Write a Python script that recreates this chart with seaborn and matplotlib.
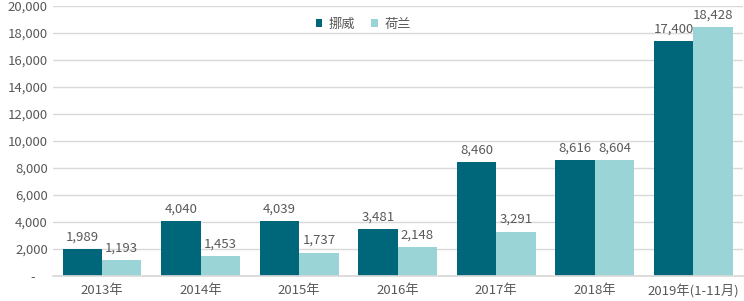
import matplotlib
matplotlib.use("Agg")
import matplotlib.pyplot as plt
import seaborn as sns
import pandas as pd
from matplotlib.ticker import FuncFormatter

years = ["2013年", "2014年", "2015年", "2016年", "2017年", "2018年", "2019年(1-11月)"]
norway = [1989, 4040, 4039, 3481, 8460, 8616, 17400]
netherlands = [1193, 1453, 1737, 2148, 3291, 8604, 18428]
series = ["挪威", "荷兰"]
colors = ["#00677A", "#9AD4D6"]

df = pd.DataFrame({
    "year": years * 2,
    "value": norway + netherlands,
    "country": [series[0]] * len(years) + [series[1]] * len(years),
})

sns.set_theme(style="white")
plt.rcParams["font.family"] = ["Noto Sans CJK SC", "DejaVu Sans"]

fig = plt.figure(figsize=(7.44, 3.01), dpi=100)
ax = fig.add_axes([0.071, 0.083, 0.927, 0.897])

sns.barplot(data=df, x="year", y="value", hue="country", palette=colors,
            width=0.8, ax=ax, saturation=1, legend=True, linewidth=0)

txt = "#595959"
for cont in ax.containers:
    ax.bar_label(cont, labels=[f"{v:,.0f}" for v in cont.datavalues],
                 padding=4, fontsize=9.5, color=txt)

ax.set_ylim(0, 20000)
ax.set_yticks(range(0, 20001, 2000))
ax.yaxis.set_major_formatter(FuncFormatter(lambda v, p: "-    " if v == 0 else f"{v:,.0f}"))
ax.grid(axis="y", color="#D9D9D9", linewidth=1)
ax.set_axisbelow(True)
for s in ["top", "right", "left"]:
    ax.spines[s].set_visible(False)
ax.spines["bottom"].set_color("#D9D9D9")
ax.tick_params(axis="both", length=0, colors=txt, labelsize=9.5)
ax.tick_params(axis="x", pad=6)
ax.set_xlabel("")
ax.set_ylabel("")
ax.set_xlim(-0.5, len(years) - 0.5)

leg = ax.legend(loc="upper center", bbox_to_anchor=(0.45, 1.0), ncol=2, frameon=False,
                fontsize=9.5, handlelength=0.5, handleheight=0.5, columnspacing=1.2,
                handletextpad=0.5, labelcolor=txt)

fig.savefig("out.png", dpi=100)
